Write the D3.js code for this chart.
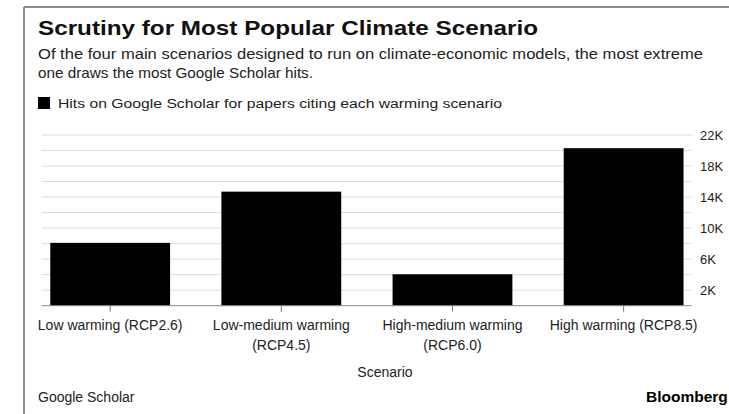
<!DOCTYPE html>
<html>
<head>
<meta charset="utf-8">
<script src="https://cdn.jsdelivr.net/npm/d3@7"></script>
<style>
  html, body { margin: 0; padding: 0; background: #fff; }
  svg { display: block; font-family: "Liberation Sans", Arial, sans-serif; }
</style>
</head>
<body>
<svg id="chart" width="729" height="414"></svg>
<script>
// Scenario names, one array entry per text line
const categories = [
  ["Low warming (RCP2.6)"],
  ["Low-medium warming", "(RCP4.5)"],
  ["High-medium warming", "(RCP6.0)"],
  ["High warming (RCP8.5)"]
];
// Google Scholar hits per scenario
const hits = [8100, 14700, 4050, 20300];
// Gridlines every 2K, labels every 4K
const gridValues = [2000, 4000, 6000, 8000, 10000, 12000, 14000, 16000, 18000, 20000, 22000];
const labelValues = [2000, 6000, 10000, 14000, 18000, 22000];
const labelText = ["2K", "6K", "10K", "14K", "18K", "22K"];

const svg = d3.select("#chart");

// frame lines
svg.append("line").attr("x1", 24).attr("x2", 24).attr("y1", 7).attr("y2", 414)
  .attr("stroke", "#666").attr("stroke-width", 1.5);
svg.append("line").attr("x1", 24).attr("x2", 729).attr("y1", 7).attr("y2", 7)
  .attr("stroke", "#666").attr("stroke-width", 1.5);

// header
svg.append("text").attr("x", 38).attr("y", 35)
  .attr("font-size", 20.5).attr("font-weight", "bold").attr("fill", "#111")
  .attr("textLength", 500).attr("lengthAdjust", "spacingAndGlyphs")
  .text("Scrutiny for Most Popular Climate Scenario");
svg.append("text").attr("x", 38).attr("y", 59)
  .attr("font-size", 15).attr("fill", "#222")
  .attr("textLength", 665).attr("lengthAdjust", "spacingAndGlyphs")
  .text("Of the four main scenarios designed to run on climate-economic models, the most extreme");
svg.append("text").attr("x", 38).attr("y", 78)
  .attr("font-size", 15).attr("fill", "#222")
  .attr("textLength", 275).attr("lengthAdjust", "spacingAndGlyphs")
  .text("one draws the most Google Scholar hits.");

// legend
svg.append("rect").attr("x", 38).attr("y", 97).attr("width", 12).attr("height", 12).attr("fill", "#000");
svg.append("text").attr("x", 58).attr("y", 107.5)
  .attr("font-size", 12.5).attr("fill", "#222")
  .attr("textLength", 444).attr("lengthAdjust", "spacingAndGlyphs")
  .text("Hits on Google Scholar for papers citing each warming scenario");

// scales
const x = d3.scaleBand()
  .domain(d3.range(categories.length))
  .range([24.6, 709.2])
  .paddingInner(0.3)
  .paddingOuter(0.15);
const y = d3.scaleLinear().domain([0, 22000]).range([305.7, 135]);

const gridX0 = 41.7, gridX1 = 691.7;

// gridlines
svg.append("g").selectAll("line").data(gridValues).join("line")
  .attr("x1", gridX0).attr("x2", gridX1)
  .attr("y1", d => y(d)).attr("y2", d => y(d))
  .attr("stroke", "#dcdcdc").attr("stroke-width", 1);

// bars
svg.append("g").selectAll("rect").data(hits).join("rect")
  .attr("x", (d, i) => x(i))
  .attr("width", x.bandwidth())
  .attr("y", d => y(d))
  .attr("height", d => y(0) - y(d))
  .attr("fill", "#000");

// baseline and ticks
svg.append("line").attr("x1", gridX0).attr("x2", gridX1)
  .attr("y1", y(0)).attr("y2", y(0))
  .attr("stroke", "#888").attr("stroke-width", 1);
svg.append("g").selectAll("line").data(hits).join("line")
  .attr("x1", (d, i) => x(i) + x.bandwidth() / 2)
  .attr("x2", (d, i) => x(i) + x.bandwidth() / 2)
  .attr("y1", y(0)).attr("y2", y(0) + 6)
  .attr("stroke", "#777").attr("stroke-width", 1);

// y labels on the right
svg.append("g").selectAll("text").data(labelValues).join("text")
  .attr("x", 700).attr("y", d => y(d))
  .attr("dy", "0.35em")
  .attr("font-size", 13).attr("fill", "#222")
  .text((d, i) => labelText[i]);

// category labels
const catG = svg.append("g").selectAll("text").data(categories).join("text")
  .attr("x", (d, i) => x(i) + x.bandwidth() / 2)
  .attr("y", 330)
  .attr("text-anchor", "middle")
  .attr("font-size", 14).attr("fill", "#222");
catG.selectAll("tspan").data(d => d).join("tspan")
  .attr("x", function () { return d3.select(this.parentNode).attr("x"); })
  .attr("dy", (d, j) => j === 0 ? 0 : 20)
  .text(d => d);

// axis title
svg.append("text").attr("x", 385).attr("y", 377)
  .attr("text-anchor", "middle").attr("font-size", 14).attr("fill", "#222")
  .text("Scenario");

// footer
svg.append("text").attr("x", 38).attr("y", 402)
  .attr("font-size", 14).attr("fill", "#222")
  .text("Google Scholar");
svg.append("text").attr("x", 646).attr("y", 402)
  .attr("font-size", 15.5).attr("font-weight", "bold").attr("fill", "#000")
  .text("Bloomberg");
</script>
</body>
</html>
